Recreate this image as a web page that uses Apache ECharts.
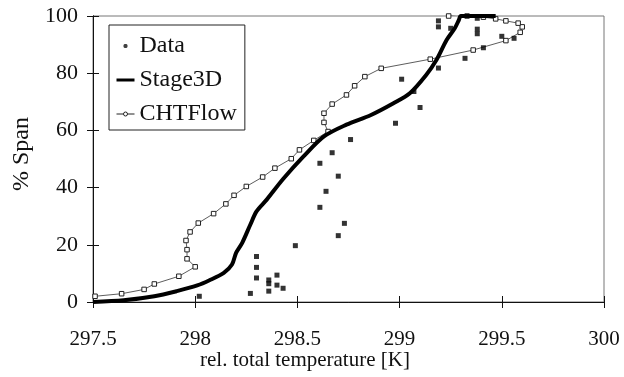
<!DOCTYPE html>
<html>
<head>
<meta charset="utf-8">
<script src="https://cdn.jsdelivr.net/npm/echarts@6/dist/echarts.min.js"></script>
<style>html,body{margin:0;padding:0;background:#fff}#c{width:624px;height:377px}</style>
</head>
<body>
<div id="c"></div>
<script>
// Measured data points
var dataPoints = [
  [298.02,2.0],[298.27,3.0],[298.30,15.9],[298.30,12.1],[298.30,8.4],
  [298.36,7.7],[298.36,6.4],[298.36,3.8],[298.40,9.4],[298.40,5.9],[298.43,4.8],
  [298.49,19.7],[298.70,23.2],[298.73,27.5],[298.61,33.1],[298.64,38.7],
  [298.70,44.0],[298.61,48.5],[298.67,52.2],[298.76,56.8],[298.98,62.5],
  [299.10,68.0],[299.07,73.6],[299.01,77.9],[299.19,81.8],[299.32,85.2],
  [299.41,88.9],[299.50,92.9],[299.56,92.2],[299.38,93.8],[299.38,95.4],
  [299.19,96.2],[299.19,98.3],[299.25,95.7],[299.38,99.2]
];
// Stage3D simulation curve
var stage3d = [
  [297.5,0],[297.65,0.6],[297.8,2.0],[297.91,3.8],[298.01,5.8],[298.07,7.6],
  [298.14,10.2],[298.18,13.1],[298.2,17.2],[298.23,20.7],[298.27,27.1],
  [298.3,31.7],[298.35,35.8],[298.43,43.0],[298.53,50.9],[298.63,57.9],
  [298.74,62.0],[298.86,65.4],[298.97,69.5],[299.05,73.0],[299.13,79.4],
  [299.18,84.6],[299.23,91.6],[299.27,95.7],[299.29,98.6],[299.3,100],[299.47,100]
];
// CHTFlow simulation curve
var chtflow = [
  [297.51,2.0],[297.64,2.9],[297.75,4.4],[297.80,6.3],[297.92,9.0],[298.00,12.3],
  [297.96,15.1],[297.96,18.3],[297.955,21.5],[297.975,24.5],[298.015,27.6],
  [298.09,30.9],[298.15,34.3],[298.19,37.3],[298.25,40.4],[298.33,43.7],
  [298.39,46.8],[298.47,50.1],[298.51,53.2],[298.58,56.5],[298.65,59.6],
  [298.63,62.8],[298.63,66.0],[298.67,69.2],[298.74,72.4],[298.78,75.6],
  [298.83,78.8],[298.91,81.7],[299.15,84.9],[299.36,88.1],[299.52,91.4],
  [299.59,94.3],[299.60,96.2],[299.58,97.5],[299.52,98.3],[299.47,99.0],
  [299.41,99.6],[299.33,100],[299.28,100.5],[299.24,100]
];
var xTicks = [297.5, 298, 298.5, 299, 299.5, 300];
var yTicks = [0, 20, 40, 60, 80, 100];
var xTitle = 'rel. total temperature [K]';
var yTitle = '% Span';

var FONT = '"Liberation Serif", "Times New Roman", serif';
var chart = echarts.init(document.getElementById('c'), null, {renderer: 'canvas'});
var axisBase = {
  axisLine: {show: true, lineStyle: {color: '#111', width: 1}},
  splitLine: {show: false}
};
// legend icons (18x10 box)
var iconDot = 'path://M0,0M18,10M8,3L10,3L11,4L11,6L10,7L8,7L7,6L7,4Z';
var iconBar = 'path://M0,0M18,10M0,3.5L18,3.5L18,6.5L0,6.5Z';
var iconLineCircle = 'path://M0,0M18,10M0,5L7,5M11,5L18,5M9,3A2,2,0,1,1,9,7A2,2,0,1,1,9,3Z';
chart.setOption({
  animation: false,
  backgroundColor: '#fff',
  grid: {left: 93, right: 20, top: 16, bottom: 75, show: true, borderColor: '#777', borderWidth: 1},
  legend: {
    orient: 'vertical', left: 109, top: 25,
    padding: [9, 8, 4, 7], itemGap: 10, itemWidth: 18, itemHeight: 10,
    borderColor: '#222', borderWidth: 1, backgroundColor: '#fff',
    textStyle: {fontFamily: FONT, fontSize: 24, color: '#111'},
    data: [
      {name: 'Data', icon: iconDot, itemStyle: {color: '#111', borderWidth: 0}},
      {name: 'Stage3D', icon: iconBar, itemStyle: {color: '#000', borderWidth: 0}},
      {name: 'CHTFlow', icon: iconLineCircle, itemStyle: {color: '#fff', borderColor: '#222', borderWidth: 1}}
    ]
  },
  xAxis: [
    Object.assign({type: 'value', min: xTicks[0], max: xTicks[xTicks.length-1], interval: 0.5,
      axisTick: {show: true, length: 6, lineStyle: {color: '#111'}},
      axisLabel: {fontFamily: FONT, fontSize: 21, color: '#111', margin: 27}}, axisBase),
    Object.assign({type: 'value', position: 'bottom', min: xTicks[0], max: xTicks[xTicks.length-1], interval: 0.5,
      axisTick: {show: true, inside: true, length: 6, lineStyle: {color: '#111'}},
      axisLabel: {show: false}}, axisBase)
  ],
  yAxis: [
    Object.assign({type: 'value', min: yTicks[0], max: yTicks[yTicks.length-1], interval: 20,
      axisTick: {show: true, length: 6, lineStyle: {color: '#111'}},
      axisLabel: {fontFamily: FONT, fontSize: 22, color: '#111', margin: 15}}, axisBase),
    Object.assign({type: 'value', position: 'left', min: yTicks[0], max: yTicks[yTicks.length-1], interval: 20,
      axisTick: {show: true, inside: true, length: 6, lineStyle: {color: '#111'}},
      axisLabel: {show: false}}, axisBase)
  ],
  graphic: [
    {type: 'text', left: 200, top: 350, style: {text: xTitle, font: '21px ' + FONT, fill: '#111'}},
    {type: 'text', x: 22, y: 154, rotation: Math.PI / 2,
      style: {text: yTitle, font: '24px ' + FONT, fill: '#111', align: 'center', verticalAlign: 'middle'}}
  ],
  series: [
    {name: 'CHTFlow', type: 'line', data: chtflow, symbol: 'rect', symbolSize: 4.5,
      showAllSymbol: true,
      lineStyle: {color: '#333', width: 0.8},
      itemStyle: {color: '#fff', borderColor: '#222', borderWidth: 1}, z: 3},
    {name: 'Stage3D', type: 'line', data: stage3d, symbol: 'none', smooth: 0.3,
      lineStyle: {color: '#000', width: 4}, itemStyle: {color: '#000'}, z: 4},
    {name: 'Data', type: 'scatter', data: dataPoints, symbol: 'rect', symbolSize: 5,
      itemStyle: {color: '#000'}, z: 5}
  ]
});
</script>
</body>
</html>
